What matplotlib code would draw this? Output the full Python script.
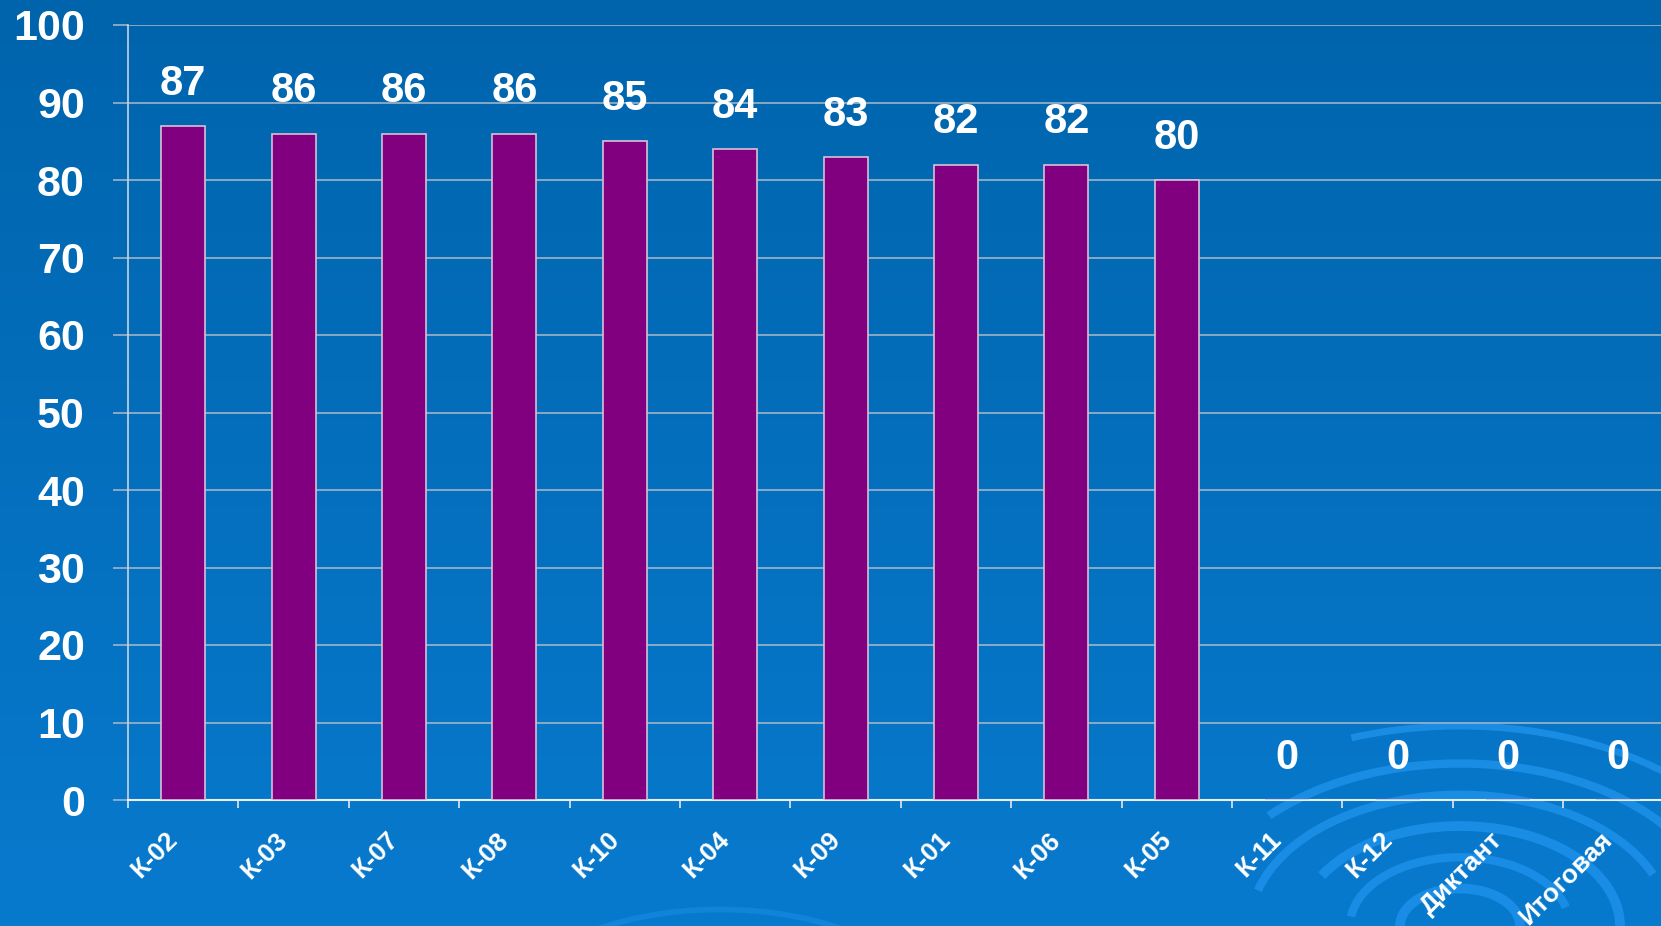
import matplotlib
matplotlib.use('Agg')
import matplotlib.pyplot as plt
import matplotlib.transforms as mtransforms
import numpy as np
from matplotlib.patches import Arc

# данные
categories = ['К-02', 'К-03', 'К-07', 'К-08', 'К-10', 'К-04', 'К-09',
              'К-01', 'К-06', 'К-05', 'К-11', 'К-12', 'Диктант', 'Итоговая']
values = [87, 86, 86, 86, 85, 84, 83, 82, 82, 80, 0, 0, 0, 0]
y_ticks = [0, 10, 20, 30, 40, 50, 60, 70, 80, 90, 100]

W, H = 1661, 926
fig = plt.figure(figsize=(W / 100, H / 100), dpi=100)

# фон: вертикальный градиент (сверху темнее)
bg = fig.add_axes([0, 0, 1, 1])
grad = np.linspace(0, 1, 256).reshape(-1, 1)
top = np.array([0, 100, 172]) / 255
bottom = np.array([8, 122, 206]) / 255
img = top + (bottom - top) * grad[..., None]
bg.imshow(img, aspect='auto', extent=[0, W, 0, H], origin='upper')
bg.set_xlim(0, W)
bg.set_ylim(0, H)
bg.axis('off')

# декоративные круги внизу
swirl = '#1c8fe8'
for r, lw, t1, t2 in [(60, 7, 0, 180), (110, 6, 10, 175), (160, 7, 0, 160),
                      (210, 6, 15, 170), (260, 6, 0, 150), (320, 5, 5, 120)]:
    bg.add_patch(Arc((1460, 0), 2 * r, 1.25 * r, theta1=t1, theta2=t2,
                     color=swirl, lw=lw, alpha=0.9))
for r, lw in [(110, 5), (170, 5), (230, 4)]:
    bg.add_patch(Arc((720, -110), 2 * r, 1.1 * r, theta1=40, theta2=150,
                     color=swirl, lw=lw, alpha=0.5))

# оси графика
ax = fig.add_axes([128 / W, 126 / H, 14 * 110.4 / W, 775 / H])
ax.set_facecolor('none')
x = np.arange(len(categories))
ax.bar(x, values, width=0.4, color='#800080', edgecolor='#d8c0d8',
       linewidth=1.2, zorder=3)

for xi, v in zip(x, values):
    ax.annotate(str(v), (xi, v), xytext=(0, 16), textcoords='offset points',
                ha='center', va='bottom', color='white', fontsize=30,
                fontweight='bold', family='Liberation Sans')

ax.set_xlim(-0.5, len(categories) - 0.5)
ax.set_ylim(0, 100)
ax.set_yticks(y_ticks)
ax.set_yticklabels([str(t) for t in y_ticks], color='white', fontsize=31,
                   fontweight='bold', family='Liberation Sans')
ax.tick_params(axis='y', length=11, width=1.2, color='#9fb4c8', pad=20)
ax.yaxis.grid(True, color='#9fb4c8', linewidth=1.2, zorder=0)
ax.set_axisbelow(True)

# засечки на границах категорий, подписи по центрам
ax.set_xticks(np.arange(len(categories)) - 0.5)
ax.set_xticklabels([])
ax.tick_params(axis='x', length=6, width=1.2, color='#e0e8f0')
ax.set_xticks(x, minor=True)
ax.set_xticklabels(categories, minor=True, rotation=45, ha='right',
                   va='top', rotation_mode='anchor', color='white',
                   fontsize=19, fontweight='bold', family='Liberation Sans')
ax.tick_params(axis='x', which='minor', length=0, pad=20)
shift = mtransforms.ScaledTranslation(-18 / 100, 0, fig.dpi_scale_trans)
for lab in ax.get_xticklabels(minor=True):
    lab.set_transform(lab.get_transform() + shift)

for s in ['top', 'right']:
    ax.spines[s].set_visible(False)
ax.spines['left'].set_color('#c8d4e0')
ax.spines['bottom'].set_color('#e8eef4')
ax.spines['left'].set_linewidth(1.2)
ax.spines['bottom'].set_linewidth(1.5)

fig.savefig('out.png', dpi=100)
